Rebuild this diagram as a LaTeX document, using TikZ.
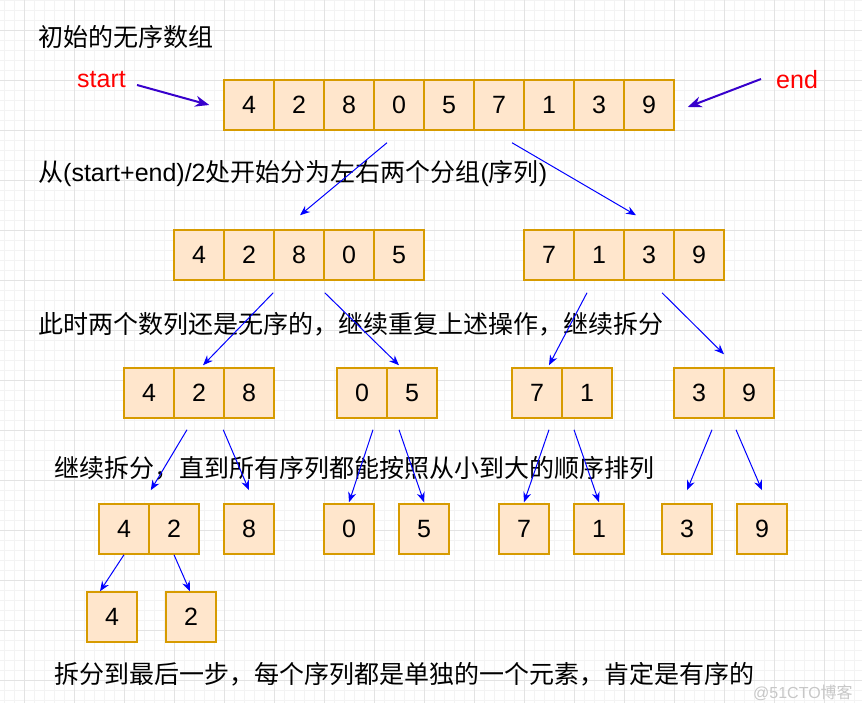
\documentclass[tikz,border=0pt]{standalone}
\usepackage{fontspec}
\setmainfont{Liberation Sans}
\newfontfamily\cjk{Noto Sans CJK SC}
\usetikzlibrary{arrows.meta,positioning}

\definecolor{cellfill}{HTML}{FFE6CC}
\definecolor{cellline}{HTML}{D79B00}
\definecolor{ptrcol}{HTML}{3700CC}
\definecolor{gridmajor}{HTML}{E3E3E3}
\definecolor{gridminor}{HTML}{F3F3F3}

\begin{document}
\begin{tikzpicture}[x=1pt,y=-1pt,node distance=50pt,
  cell/.style={draw=cellline,fill=cellfill,line width=1.5pt,minimum size=50pt,inner sep=0pt,font=\fontsize{25}{30}\selectfont},
  note/.style={anchor=west,inner sep=0pt,font=\fontsize{25}{30}\selectfont},
  marker/.style={anchor=west,inner sep=0pt,text=red,font=\fontsize{25}{30}\selectfont},
  split/.style={-{Stealth[length=10pt,width=8pt]},blue,line width=1pt},
  pointer/.style={-{Stealth[length=14pt,width=11pt]},ptrcol,line width=2pt}]

\useasboundingbox (0,0) rectangle (862,711);

% grid
\foreach \x in {4,14,...,854} \draw[gridminor,line width=0.8pt] (\x,0) -- (\x,703);
\foreach \y in {0,10,...,700} \draw[gridminor,line width=0.8pt] (0,\y) -- (862,\y);
\foreach \x in {24,74,...,824} \draw[gridmajor,line width=0.8pt] (\x,0) -- (\x,703);
\foreach \y in {30,80,...,680} \draw[gridmajor,line width=0.8pt] (0,\y) -- (862,\y);

% texts
\node[note] (title) at (38,37) {\cjk 初始的无序数组};
\node[note] (step1) at (38,174) {{\cjk 从}(start+end)/2{\cjk 处开始分为左右两个分组}({\cjk 序列})};
\node[note] (step2) at (38,324) {\cjk 此时两个数列还是无序的，继续重复上述操作，继续拆分};
\node[note] (step3) at (54,468) {\cjk 继续拆分，直到所有序列都能按照从小到大的顺序排列};
\node[note] (step4) at (54,674) {\cjk 拆分到最后一步，每个序列都是单独的一个元素，肯定是有序的};
\node[marker] (startlbl) at (77,80) {start};
\node[marker] (endlbl) at (776,80) {end};
\node[anchor=west,inner sep=0pt,text=black!22,font=\fontsize{16}{18}\selectfont] (mark) at (753,693) {@51CTO{\cjk 博客}};

% row 1
\node[cell] (a1) at (249,105) {4};
\node[cell] (a2) [right of=a1] {2};
\node[cell] (a3) [right of=a2] {8};
\node[cell] (a4) [right of=a3] {0};
\node[cell] (a5) [right of=a4] {5};
\node[cell] (a6) [right of=a5] {7};
\node[cell] (a7) [right of=a6] {1};
\node[cell] (a8) [right of=a7] {3};
\node[cell] (a9) [right of=a8] {9};

% row 2
\node[cell] (b1) at (199,255) {4};
\node[cell] (b2) [right of=b1] {2};
\node[cell] (b3) [right of=b2] {8};
\node[cell] (b4) [right of=b3] {0};
\node[cell] (b5) [right of=b4] {5};
\node[cell] (b6) at (549,255) {7};
\node[cell] (b7) [right of=b6] {1};
\node[cell] (b8) [right of=b7] {3};
\node[cell] (b9) [right of=b8] {9};

% row 3
\node[cell] (c1) at (149,393) {4};
\node[cell] (c2) [right of=c1] {2};
\node[cell] (c3) [right of=c2] {8};
\node[cell] (c4) at (362,393) {0};
\node[cell] (c5) [right of=c4] {5};
\node[cell] (c6) at (537,393) {7};
\node[cell] (c7) [right of=c6] {1};
\node[cell] (c8) at (699,393) {3};
\node[cell] (c9) [right of=c8] {9};

% row 4
\node[cell] (d1) at (124,529) {4};
\node[cell] (d2) [right of=d1] {2};
\node[cell] (d3) at (249,529) {8};
\node[cell] (d4) at (349,529) {0};
\node[cell] (d5) at (424,529) {5};
\node[cell] (d6) at (524,529) {7};
\node[cell] (d7) at (599,529) {1};
\node[cell] (d8) at (687,529) {3};
\node[cell] (d9) at (762,529) {9};

% row 5
\node[cell] (e1) at (112,617) {4};
\node[cell] (e2) at (191,617) {2};

\path[pointer] ([shift={(11,5)}]startlbl.east) edge ([shift={(-14,0)}]a1.west)
               ([shift={(-15,-1)}]endlbl.west) edge ([shift={(13,2)}]a9.east);

\path[split] ([shift={(-12,12)}]a4.south) edge ([shift={(1,-14)}]b3.north)
             ([shift={(13,12)}]a6.south) edge ([shift={(-13,-14)}]b8.north)

             ([shift={(0,12)}]b3.south west) edge ([shift={(4,-2)}]c2.north)
             ([shift={(0,12)}]b3.south east) edge ([shift={(-13,-2)}]c5.north)
             ([shift={(-12,12)}]b7.south) edge ([shift={(12,-2)}]c6.north)
             ([shift={(13,12)}]b8.south) edge ([shift={(-25,-13)}]c9.north)

             ([shift={(-12,11)}]c2.south) edge ([shift={(1,-13)}]d1.north east)
             ([shift={(0,11)}]c3.south west) edge ([shift={(0,-13)}]d3.north)
             ([shift={(11,11)}]c4.south) edge ([shift={(0,-1)}]d4.north)
             ([shift={(-13,11)}]c5.south) edge ([shift={(0,-1)}]d5.north)
             ([shift={(12,11)}]c6.south) edge ([shift={(0,-1)}]d6.north)
             ([shift={(-13,11)}]c7.south) edge ([shift={(0,-1)}]d7.north)
             ([shift={(13,11)}]c8.south) edge ([shift={(0,-13)}]d8.north)
             ([shift={(-13,11)}]c9.south) edge ([shift={(0,-13)}]d9.north)

             (d1.south) edge ([shift={(-12,0)}]e1.north)
             (d2.south) edge ([shift={(-1,0)}]e2.north);

\end{tikzpicture}
\end{document}
